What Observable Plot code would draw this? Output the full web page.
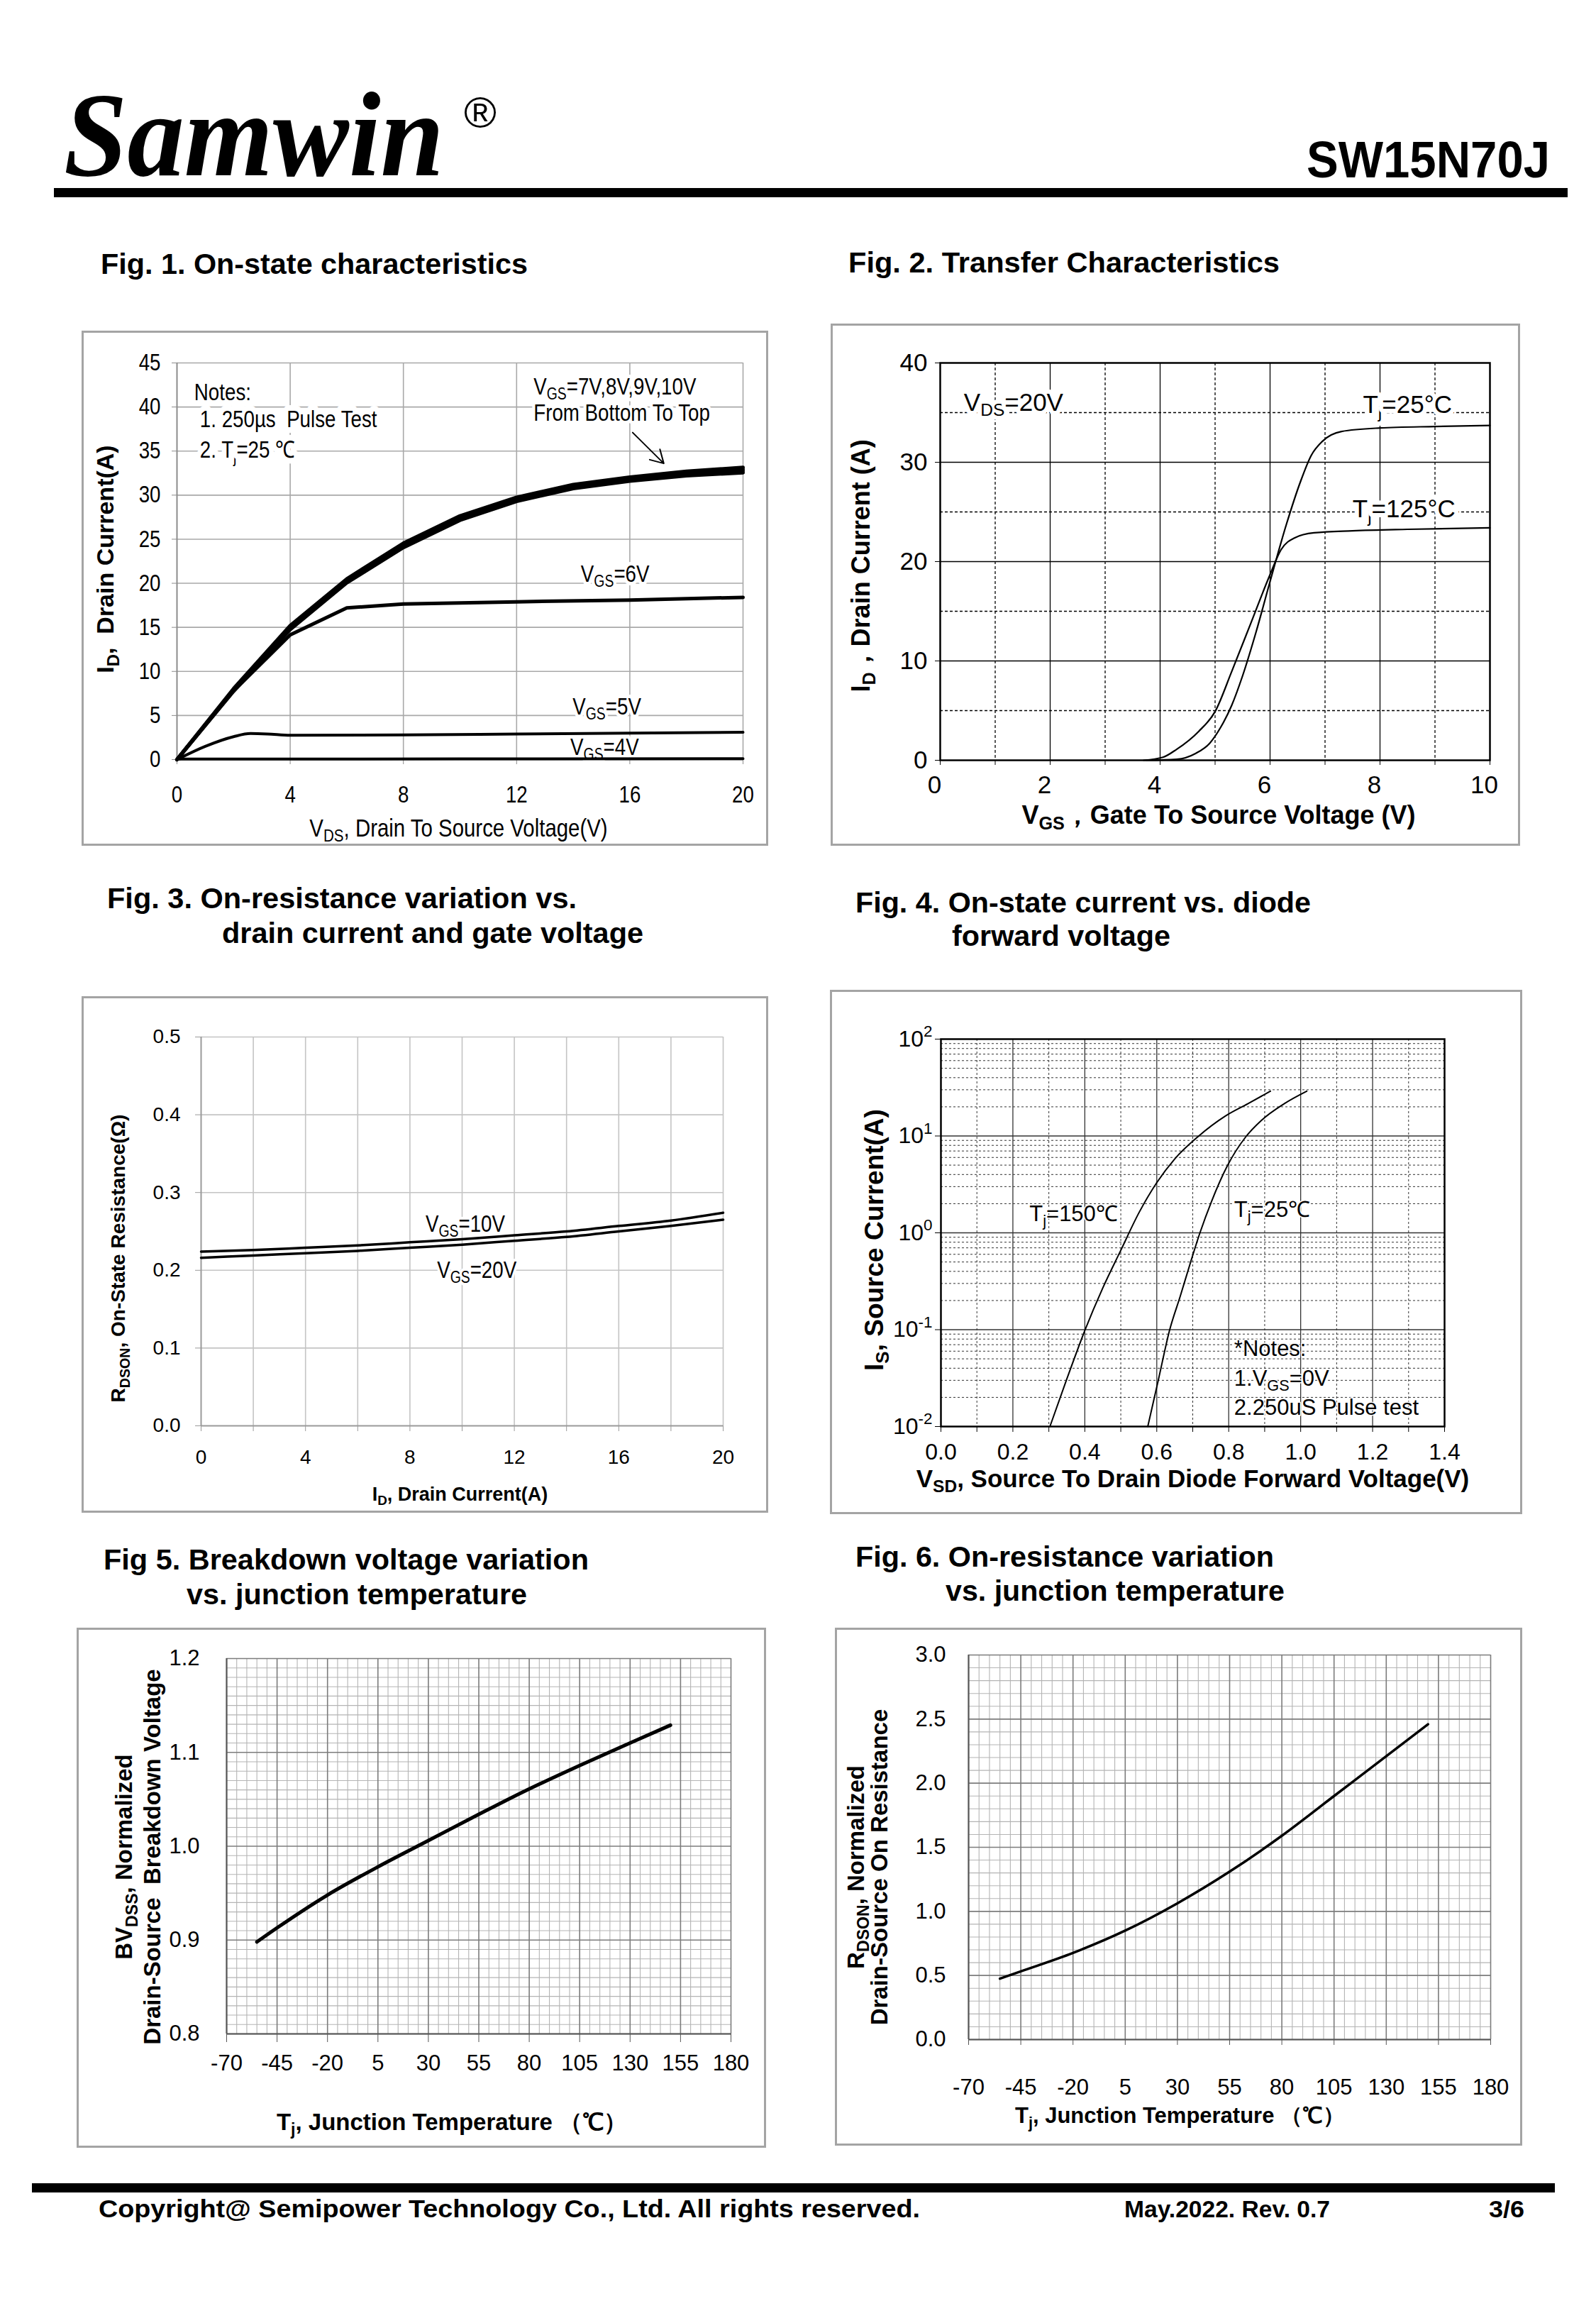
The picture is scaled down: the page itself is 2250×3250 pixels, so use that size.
<!DOCTYPE html>
<html>
<head>
<meta charset="utf-8">
<script src="https://cdn.jsdelivr.net/npm/d3@7"></script>
<script src="https://cdn.jsdelivr.net/npm/@observablehq/plot@0.6"></script>
<style>
html, body { margin: 0; padding: 0; background: #fff; }
#page { position: relative; width: 2250px; height: 3250px; overflow: hidden; background: #fff; }
</style>
</head>
<body>
<div id="page"></div>
<script>
// ================= DATA =================
// Fig 1 – on-state characteristics
const fig1XTicks = [0, 4, 8, 12, 16, 20];
const fig1YTicks = [0, 5, 10, 15, 20, 25, 30, 35, 40, 45];
const fig1Vds   = [0, 2, 4, 6, 8, 10, 12, 14, 16, 18, 20];
const fig1Id7V  = [0, 7.75, 14.75, 20.05, 24.05, 27.15, 29.3, 30.75, 31.6, 32.2, 32.55];
const fig1Id8V  = [0, 7.85, 14.9, 20.2, 24.25, 27.35, 29.45, 30.9, 31.75, 32.4, 32.75];
const fig1Id9V  = [0, 7.95, 15.05, 20.35, 24.4, 27.5, 29.6, 31.05, 31.9, 32.55, 32.95];
const fig1Id10V = [0, 8.05, 15.2, 20.5, 24.55, 27.65, 29.75, 31.2, 32.05, 32.7, 33.15];
const fig1Vds6  = [0, 2, 4, 6, 8, 12, 16, 20];
const fig1Id6V  = [0, 7.8, 14.15, 17.2, 17.65, 17.9, 18.1, 18.4];
const fig1Vds5  = [0, 1, 2, 2.6, 3.2, 4, 8, 12, 16, 20];
const fig1Id5V  = [0, 1.5, 2.6, 2.95, 2.9, 2.75, 2.8, 2.9, 3.0, 3.1];
const fig1Vds4  = [0, 10, 20];
const fig1Id4V  = [0.05, 0.08, 0.1];
const fig1Notes = [
  {x: 0.61, y: 41.6, text: "Notes:"},
  {x: 0.81, y: 38.6, text: "1. 250µs  Pulse Test"},
  {x: 0.81, y: 35.1, text: "2. T_{j}=25 ℃"}
];
const fig1Labels = [
  {x: 12.6, y: 42.3, text: "V_{GS}=7V,8V,9V,10V"},
  {x: 12.6, y: 39.3, text: "From Bottom To Top"},
  {x: 14.27, y: 21.0, text: "V_{GS}=6V"},
  {x: 13.98, y: 6.0, text: "V_{GS}=5V"},
  {x: 13.9, y: 1.4, text: "V_{GS}=4V"}
];
const fig1Arrow = [{x1: 16.1, y1: 37.1, x2: 17.2, y2: 33.6}];

// Fig 2 – transfer characteristics
const fig2XTicks = [0, 2, 4, 6, 8, 10];
const fig2YTicks = [0, 10, 20, 30, 40];
const fig2Vgs25  = [3.75, 4.3, 4.65, 4.9, 5.1, 5.3, 5.5, 5.75, 6.0, 6.3, 6.55, 6.75, 6.95, 7.3, 8.0, 9.0, 10];
const fig2Id25   = [0, 0.1, 0.7, 1.7, 3.3, 5.5, 8.5, 13.0, 18.0, 23.8, 28.0, 30.7, 32.1, 33.1, 33.45, 33.6, 33.7];
const fig2Vgs125 = [3.7, 4.05, 4.3, 4.7, 5.0, 5.3, 5.65, 6.0, 6.2, 6.45, 6.8, 7.5, 8.5, 10];
const fig2Id125  = [0, 0.3, 1.1, 2.9, 4.9, 8.9, 13.8, 18.7, 21.2, 22.4, 22.9, 23.1, 23.25, 23.4];
const fig2Labels = [
  {x: 0.43, y: 36.0, text: "V_{DS}=20V"},
  {x: 7.69, y: 35.8, text: "T_{j}=25°C"},
  {x: 7.5, y: 25.3, text: "T_{j}=125°C"}
];

// Fig 3 – on-resistance vs drain current
const fig3XTicks = [0, 4, 8, 12, 16, 20];
const fig3YTicks = [0, 0.1, 0.2, 0.3, 0.4, 0.5];
const fig3Id  = [0, 2, 4, 6, 8, 10, 12, 14, 16, 18, 20];
const fig3R10 = [0.224, 0.226, 0.229, 0.232, 0.236, 0.240, 0.245, 0.250, 0.257, 0.264, 0.274];
const fig3R20 = [0.216, 0.219, 0.222, 0.225, 0.229, 0.233, 0.238, 0.243, 0.250, 0.257, 0.265];
const fig3Labels = [
  {x: 8.6, y: 0.259, text: "V_{GS}=10V"},
  {x: 9.04, y: 0.200, text: "V_{GS}=20V"}
];

// Fig 4 – diode forward voltage
const fig4XTicks = [0, 0.2, 0.4, 0.6, 0.8, 1.0, 1.2, 1.4];
const fig4YTicks = [0.01, 0.1, 1, 10, 100];
const fig4YLabels = ["10^{-2}", "10^{-1}", "10^{0}", "10^{1}", "10^{2}"];
const fig4Vsd150 = [0.303, 0.35, 0.40, 0.45, 0.50, 0.55, 0.60, 0.65, 0.714, 0.79, 0.853, 0.916];
const fig4Is150  = [0.01, 0.031, 0.098, 0.27, 0.66, 1.6, 3.3, 5.8, 9.8, 16, 21.5, 29];
const fig4Vsd25  = [0.575, 0.605, 0.636, 0.665, 0.692, 0.72, 0.752, 0.796, 0.847, 0.891, 0.954, 1.017];
const fig4Is25   = [0.01, 0.031, 0.1, 0.22, 0.47, 1.0, 2.1, 4.9, 9.75, 14.5, 21.5, 29];
const fig4Labels = [
  {x: 0.246, y: 1.56, text: "T_{j}=150℃"},
  {x: 0.815, y: 1.73, text: "T_{j}=25℃"},
  {x: 0.815, y: 0.0637, text: "*Notes:"},
  {x: 0.815, y: 0.0313, text: "1.V_{GS}=0V"},
  {x: 0.815, y: 0.0156, text: "2.250uS Pulse test"}
];

// Fig 5 – breakdown voltage vs Tj
const tempTicks = [-70, -45, -20, 5, 30, 55, 80, 105, 130, 155, 180];
const fig5YTicks = [0.8, 0.9, 1.0, 1.1, 1.2];
const fig5Tj = [-55, -45, -20, 5, 30, 55, 80, 105, 130, 150];
const fig5BV = [0.898, 0.913, 0.948, 0.978, 1.006, 1.034, 1.061, 1.086, 1.110, 1.129];

// Fig 6 – on-resistance vs Tj
const fig6YTicks = [0, 0.5, 1.0, 1.5, 2.0, 2.5, 3.0];
const fig6Tj = [-55, -45, -20, 5, 30, 55, 80, 105, 130, 150];
const fig6R  = [0.475, 0.532, 0.676, 0.850, 1.063, 1.31, 1.59, 1.90, 2.21, 2.46];

// Page texts
const pageTexts = [
  {t: "Fig. 1. On-state characteristics", x: 142, y: 386, len: 602},
  {t: "Fig. 2. Transfer Characteristics", x: 1196, y: 384, len: 608},
  {t: "Fig. 3. On-resistance variation vs.", x: 151, y: 1280, len: 662},
  {t: "drain current and gate voltage", x: 313, y: 1329, len: 594},
  {t: "Fig. 4. On-state current vs. diode", x: 1206, y: 1286, len: 642},
  {t: "forward voltage", x: 1342, y: 1333, len: 308},
  {t: "Fig 5. Breakdown voltage variation", x: 146, y: 2212, len: 684},
  {t: "vs. junction temperature", x: 263, y: 2261, len: 480},
  {t: "Fig. 6. On-resistance variation", x: 1206, y: 2208, len: 590},
  {t: "vs. junction temperature", x: 1333, y: 2256, len: 478}
];

// ================= HELPERS =================
const SANS = "'Liberation Sans', Arial, Helvetica, sans-serif";
const NARROW = "'Liberation Sans Narrow', 'Arial Narrow', 'Liberation Sans', Arial, sans-serif";
const SERIF = "'Liberation Serif', 'Times New Roman', serif";
const page = document.getElementById("page");
const NS = "http://www.w3.org/2000/svg";
const rows = (xs, ys) => xs.map((x, i) => ({x, y: ys[i]}));
const plain = d => String(d);

// is a real narrow face installed? if not, squeeze the regular face
const NARROW_FACTOR = (() => {
  const c = document.createElement("canvas").getContext("2d");
  c.font = "40px " + NARROW; const a = c.measureText("Drain To Source Voltage").width;
  c.font = "40px " + SANS;   const b = c.measureText("Drain To Source Voltage").width;
  return Math.abs(a - b) < 1 ? 0.84 : 1;
})();

// turn _{..} into subscripts and ^{..} into superscripts
function rich(svg) {
  const els = [...svg.querySelectorAll("text, tspan")];
  for (const el of els) {
    for (const node of [...el.childNodes]) {
      if (node.nodeType !== 3 || !/[_^]\{/.test(node.nodeValue)) continue;
      const s = node.nodeValue;
      const frag = document.createDocumentFragment();
      let cur = 0;
      const add = (text, kind) => {
        if (!text) return;
        const target = kind === "_" ? 0.22 : kind === "^" ? -0.42 : 0;
        const delta = target - cur;
        if (!kind && Math.abs(delta) < 1e-9) { frag.appendChild(document.createTextNode(text)); return; }
        const ts = document.createElementNS(NS, "tspan");
        if (kind) ts.style.fontSize = "0.7em";
        const em = kind ? delta / 0.7 : delta;
        if (Math.abs(delta) > 1e-9) ts.setAttribute("dy", em.toFixed(3) + "em");
        ts.textContent = text;
        frag.appendChild(ts);
        cur = target;
      };
      const re = /([_^])\{([^}]*)\}/g;
      let last = 0, m;
      while ((m = re.exec(s))) {
        add(s.slice(last, m.index), null);
        add(m[2], m[1]);
        last = re.lastIndex;
      }
      add(s.slice(last), null);
      el.replaceChild(frag, node);
    }
  }
}

function condense(svg) {
  if (NARROW_FACTOR === 1) return;
  for (const t of svg.querySelectorAll("text")) {
    if (!/Narrow/.test(getComputedStyle(t).fontFamily)) continue;
    const len = t.getComputedTextLength();
    if (len > 0) {
      t.setAttribute("textLength", (len * NARROW_FACTOR).toFixed(1));
      t.setAttribute("lengthAdjust", "spacingAndGlyphs");
    }
  }
}

function chart(opts, left, top) {
  const svg = Plot.plot(opts);
  rich(svg);
  Object.assign(svg.style, {
    position: "absolute", left: left + "px", top: top + "px",
    width: opts.width + "px", height: opts.height + "px", maxWidth: "none",
    outline: "3px solid #a4a4a4", outlineOffset: "-3px", background: "white"
  });
  page.appendChild(svg);
  condense(svg);
  return svg;
}

function yTitle(text, o) {
  return Plot.text([text], {text: d => d, frameAnchor: "left", rotate: -90, textAnchor: "middle", lineAnchor: "middle",
    fontFamily: SANS, fontWeight: "bold", fill: "black", ...o});
}
function xTitle(text, o) {
  return Plot.text([text], {text: d => d, frameAnchor: "bottom", textAnchor: "middle", lineAnchor: "middle",
    fontFamily: SANS, fontWeight: "bold", fill: "black", ...o});
}

// ================= PAGE (header, titles, footer) =================
{
  const svg = document.createElementNS(NS, "svg");
  svg.setAttribute("width", 2250); svg.setAttribute("height", 3250);
  svg.style.position = "absolute"; svg.style.left = "0"; svg.style.top = "0";
  const add = (tag, attrs, txt) => {
    const e = document.createElementNS(NS, tag);
    for (const k in attrs) e.setAttribute(k, attrs[k]);
    if (txt != null) e.textContent = txt;
    svg.appendChild(e);
    return e;
  };
  add("text", {x: 90, y: 247, "font-family": SERIF, "font-weight": "bold", "font-style": "italic", "font-size": 170,
    textLength: 536, lengthAdjust: "spacingAndGlyphs"}, "Samwin");
  add("text", {x: 654, y: 180, "font-family": SANS, "font-size": 62, textLength: 46, lengthAdjust: "spacingAndGlyphs"}, "®");
  add("text", {x: 1842, y: 250, "font-family": SANS, "font-weight": "bold", "font-size": 72,
    textLength: 343, lengthAdjust: "spacingAndGlyphs"}, "SW15N70J");
  add("rect", {x: 76, y: 265, width: 2134, height: 13, fill: "black"});
  for (const p of pageTexts) {
    add("text", {x: p.x, y: p.y, "font-family": SANS, "font-weight": "bold", "font-size": 40,
      textLength: p.len, lengthAdjust: "spacingAndGlyphs"}, p.t);
  }
  add("rect", {x: 45, y: 3077, width: 2147, height: 13, fill: "black"});
  add("text", {x: 139, y: 3125, "font-family": SANS, "font-weight": "bold", "font-size": 35,
    textLength: 1158, lengthAdjust: "spacingAndGlyphs"}, "Copyright@ Semipower Technology Co., Ltd. All rights reserved.");
  add("text", {x: 1585, y: 3125, "font-family": SANS, "font-weight": "bold", "font-size": 34,
    textLength: 290, lengthAdjust: "spacingAndGlyphs"}, "May.2022. Rev. 0.7");
  add("text", {x: 2099, y: 3125, "font-family": SANS, "font-weight": "bold", "font-size": 34,
    textLength: 50, lengthAdjust: "spacingAndGlyphs"}, "3/6");
  page.appendChild(svg);
}

// ================= FIG 1 =================
{
  const band = [fig1Id7V, fig1Id8V, fig1Id9V, fig1Id10V].map(ys => rows(fig1Vds, ys));
  chart({
    width: 968, height: 726, marginLeft: 134, marginRight: 36, marginTop: 45, marginBottom: 122,
    x: {domain: [0, 20]}, y: {domain: [0, 45]},
    style: {fontFamily: NARROW, fontSize: "33px", color: "black"},
    marks: [
      Plot.ruleX(fig1XTicks.filter(d => d > 0), {stroke: "#a9a9a9", strokeWidth: 1.6}),
      Plot.ruleY(fig1YTicks.filter(d => d > 0), {stroke: "#a9a9a9", strokeWidth: 1.6}),
      Plot.ruleX([0], {stroke: "#8c8c8c", strokeWidth: 2}),
      Plot.ruleY([0], {stroke: "#8c8c8c", strokeWidth: 2}),
      Plot.axisX(fig1XTicks, {tickSize: 7, tickPadding: 30, stroke: "#8c8c8c", fill: "black", label: null}),
      Plot.axisY(fig1YTicks, {tickSize: 7, tickPadding: 16, stroke: "#8c8c8c", fill: "black", label: null}),
      Plot.text(fig1Notes, {x: "x", y: "y", text: "text", textAnchor: "start", stroke: "white", strokeWidth: 16, fill: "black"}),
      Plot.text(fig1Labels, {x: "x", y: "y", text: "text", textAnchor: "start", stroke: "white", strokeWidth: 10, fill: "black"}),
      Plot.arrow(fig1Arrow, {x1: "x1", y1: "y1", x2: "x2", y2: "y2", stroke: "black", strokeWidth: 2, headLength: 18}),
      Plot.line(rows(fig1Vds4, fig1Id4V), {x: "x", y: "y", stroke: "black", strokeWidth: 4}),
      Plot.line(rows(fig1Vds5, fig1Id5V), {x: "x", y: "y", stroke: "black", strokeWidth: 4, curve: "monotone-x"}),
      Plot.line(rows(fig1Vds6, fig1Id6V), {x: "x", y: "y", stroke: "black", strokeWidth: 5}),
      ...band.map(d => Plot.line(d, {x: "x", y: "y", stroke: "black", strokeWidth: 5, strokeLinejoin: "round"})),
      yTitle("I_{D},  Drain Current(A)", {dx: -100, dy: -3, fontSize: 34}),
      xTitle("V_{DS}, Drain To Source Voltage(V)", {dy: 97, dx: -2, fontSize: 35, fontFamily: NARROW, fontWeight: "normal"})
    ]
  }, 115, 466);
}

// ================= FIG 2 =================
{
  const dash = {stroke: "black", strokeWidth: 1.3, strokeDasharray: "4,3"};
  const solid = {stroke: "black", strokeWidth: 1.3};
  chart({
    width: 972, height: 736, marginLeft: 154, marginRight: 43, marginTop: 55, marginBottom: 121,
    x: {domain: [0, 10]}, y: {domain: [0, 40]},
    style: {fontFamily: SANS, fontSize: "35px", color: "black"},
    marks: [
      Plot.ruleX([1, 3, 5, 7, 9], dash),
      Plot.ruleX([2, 4, 6, 8], solid),
      Plot.ruleY([5, 15, 25, 35], dash),
      Plot.ruleY([10, 20, 30], solid),
      Plot.frame({stroke: "black", strokeWidth: 2.5}),
      Plot.axisX(d3.range(0, 11), {tickSize: 7, tickFormat: () => "", label: null}),
      Plot.axisX(fig2XTicks, {tickSize: 0, tickPadding: 22, dx: -8, label: null}),
      Plot.axisY(fig2YTicks, {tickSize: 7, tickPadding: 11, label: null}),
      Plot.text(fig2Labels, {x: "x", y: "y", text: "text", textAnchor: "start", stroke: "white", strokeWidth: 12, fill: "black", fontSize: 35}),
      Plot.line(rows(fig2Vgs125, fig2Id125), {x: "x", y: "y", stroke: "black", strokeWidth: 2.2, curve: "monotone-x"}),
      Plot.line(rows(fig2Vgs25, fig2Id25), {x: "x", y: "y", stroke: "black", strokeWidth: 2.2, curve: "monotone-x"}),
      yTitle("I_{D}，Drain Current (A)", {dx: -111, dy: 6, fontSize: 36}),
      xTitle("V_{GS}，Gate To Source Voltage (V)", {dy: 78, dx: 5, fontSize: 36})
    ]
  }, 1171, 456);
}

// ================= FIG 3 =================
{
  chart({
    width: 968, height: 728, marginLeft: 168, marginRight: 64, marginTop: 57, marginBottom: 123,
    x: {domain: [0, 20]}, y: {domain: [0, 0.5]},
    style: {fontFamily: SANS, fontSize: "28px", color: "black"},
    marks: [
      Plot.ruleX(d3.range(2, 21, 2), {stroke: "#c4c4c4", strokeWidth: 1.6}),
      Plot.ruleY(fig3YTicks.filter(d => d > 0), {stroke: "#c4c4c4", strokeWidth: 1.6}),
      Plot.ruleX([0], {stroke: "#9a9a9a", strokeWidth: 2}),
      Plot.ruleY([0], {stroke: "#9a9a9a", strokeWidth: 2}),
      Plot.axisX(d3.range(0, 21, 2), {tickSize: 8, tickFormat: () => "", stroke: "#9a9a9a", label: null}),
      Plot.axisX(fig3XTicks, {tickSize: 0, tickPadding: 34, label: null}),
      Plot.axisY(fig3YTicks, {tickSize: 8, tickPadding: 21, stroke: "#9a9a9a", fill: "black", tickFormat: d3.format(".1f"), label: null}),
      Plot.text(fig3Labels, {x: "x", y: "y", text: "text", textAnchor: "start", stroke: "white", strokeWidth: 8, fill: "black", fontSize: 33, fontFamily: NARROW}),
      Plot.line(rows(fig3Id, fig3R10), {x: "x", y: "y", stroke: "black", strokeWidth: 3.5, curve: "monotone-x"}),
      Plot.line(rows(fig3Id, fig3R20), {x: "x", y: "y", stroke: "black", strokeWidth: 3.5, curve: "monotone-x"}),
      yTitle("R_{DSON}, On-State Resistance(Ω)", {dx: -116, dy: 38, fontSize: 28}),
      xTitle("I_{D}, Drain Current(A)", {dy: 97, dx: -3, fontSize: 27})
    ]
  }, 115, 1404);
}

// ================= FIG 4 =================
{
  const minorY = [];
  for (const dec of [0.01, 0.1, 1, 10]) for (let k = 2; k <= 9; k++) minorY.push(dec * k);
  chart({
    width: 976, height: 739, marginLeft: 156, marginRight: 110, marginTop: 69, marginBottom: 124,
    x: {domain: [0, 1.4]}, y: {type: "log", domain: [0.01, 100]},
    style: {fontFamily: SANS, fontSize: "32px", color: "black"},
    marks: [
      Plot.ruleY(minorY, {stroke: "#333", strokeWidth: 1, strokeDasharray: "3,3"}),
      Plot.ruleY([0.1, 1, 10], {stroke: "#333", strokeWidth: 1.5}),
      Plot.ruleX([0.1, 0.3, 0.5, 0.7, 0.9, 1.1, 1.3], {stroke: "#333", strokeWidth: 1, strokeDasharray: "3,3"}),
      Plot.ruleX([0.2, 0.4, 0.6, 0.8, 1.0, 1.2], {stroke: "#333", strokeWidth: 1.3}),
      Plot.frame({stroke: "black", strokeWidth: 2.5}),
      Plot.axisX(d3.range(0, 15).map(i => i / 10), {tickSize: 8, tickFormat: () => "", label: null}),
      Plot.axisX(fig4XTicks, {tickSize: 0, tickPadding: 24, tickFormat: d3.format(".1f"), label: null}),
      Plot.axisY(fig4YTicks, {tickSize: 8, tickPadding: 4, tickFormat: d => fig4YLabels[fig4YTicks.indexOf(d)], label: null}),
      Plot.text(fig4Labels, {x: "x", y: "y", text: "text", textAnchor: "start", fill: "black", fontSize: 31, stroke: "white", strokeWidth: 3}),
      Plot.line(rows(fig4Vsd150, fig4Is150), {x: "x", y: "y", stroke: "black", strokeWidth: 2, curve: "monotone-x"}),
      Plot.line(rows(fig4Vsd25, fig4Is25), {x: "x", y: "y", stroke: "black", strokeWidth: 2, curve: "monotone-x"}),
      yTitle("I_{S}, Source Current(A)", {dx: -93, dy: 10, fontSize: 37}),
      xTitle("V_{SD}, Source To Drain Diode Forward Voltage(V)", {dy: 74, dx: 0, fontSize: 35})
    ]
  }, 1170, 1395);
}

// ================= FIG 5 & 6 common grid =================
function tempGrid(yMinor, yMajor) {
  const xMinor = d3.range(-70, 181, 5).filter(v => !tempTicks.includes(v));
  return [
    Plot.ruleX(xMinor, {stroke: "#b4b4b4", strokeWidth: 1.1}),
    Plot.ruleY(yMinor, {stroke: "#b4b4b4", strokeWidth: 1.1}),
    Plot.ruleX(tempTicks, {stroke: "#7c7c7c", strokeWidth: 1.6}),
    Plot.ruleY(yMajor, {stroke: "#7c7c7c", strokeWidth: 1.6})
  ];
}

// ================= FIG 5 =================
{
  const yMinor = d3.range(81, 120).map(v => v / 100).filter(v => Math.round(v * 100) % 10 !== 0);
  chart({
    width: 972, height: 733, marginLeft: 211, marginRight: 50, marginTop: 43, marginBottom: 161,
    x: {domain: [-70, 180]}, y: {domain: [0.8, 1.2]},
    style: {fontFamily: SANS, fontSize: "31px", color: "black"},
    marks: [
      ...tempGrid(yMinor, fig5YTicks),
      Plot.ruleX([-70], {stroke: "#555", strokeWidth: 2}),
      Plot.ruleY([0.8], {stroke: "#555", strokeWidth: 2}),
      Plot.axisX(tempTicks, {tickSize: 12, tickPadding: 17, stroke: "#555", fill: "black", tickFormat: plain, label: null}),
      Plot.axisY(fig5YTicks, {tickSize: 0, tickPadding: 38, tickFormat: d3.format(".1f"), label: null}),
      Plot.line(rows(fig5Tj, fig5BV), {x: "x", y: "y", stroke: "black", strokeWidth: 5, curve: "monotone-x"}),
      yTitle("BV_{DSS}, Normalized\nDrain-Source  Breakdown Voltage", {dx: -126, dy: 15, fontSize: 33, lineHeight: 1.2}),
      xTitle("T_{j}, Junction Temperature （℃）", {dy: 125, dx: -38, fontSize: 33})
    ]
  }, 108, 2294);
}

// ================= FIG 6 =================
{
  const yMinor = d3.range(1, 30).map(v => v / 10).filter(v => Math.round(v * 10) % 5 !== 0);
  chart({
    width: 969, height: 730, marginLeft: 188, marginRight: 45, marginTop: 38, marginBottom: 150,
    x: {domain: [-70, 180]}, y: {domain: [0, 3]},
    style: {fontFamily: SANS, fontSize: "31px", color: "black"},
    marks: [
      ...tempGrid(yMinor, fig6YTicks),
      Plot.ruleX([-70], {stroke: "#555", strokeWidth: 2}),
      Plot.ruleY([0], {stroke: "#555", strokeWidth: 2}),
      Plot.axisX(tempTicks, {tickSize: 8, tickPadding: 47, stroke: "#555", fill: "black", tickFormat: plain, label: null}),
      Plot.axisY(fig6YTicks, {tickSize: 0, tickPadding: 32, tickFormat: d3.format(".1f"), label: null}),
      Plot.line(rows(fig6Tj, fig6R), {x: "x", y: "y", stroke: "black", strokeWidth: 3.5, curve: "monotone-x"}),
      yTitle("R_{DSON}, Normalized\nDrain-Source On Resistance", {dx: -142, dy: 28, fontSize: 33, lineHeight: 1.0}),
      xTitle("T_{j}, Junction Temperature （℃）", {dy: 108, dx: -70, fontSize: 31})
    ]
  }, 1177, 2294);
}
</script>
</body>
</html>
